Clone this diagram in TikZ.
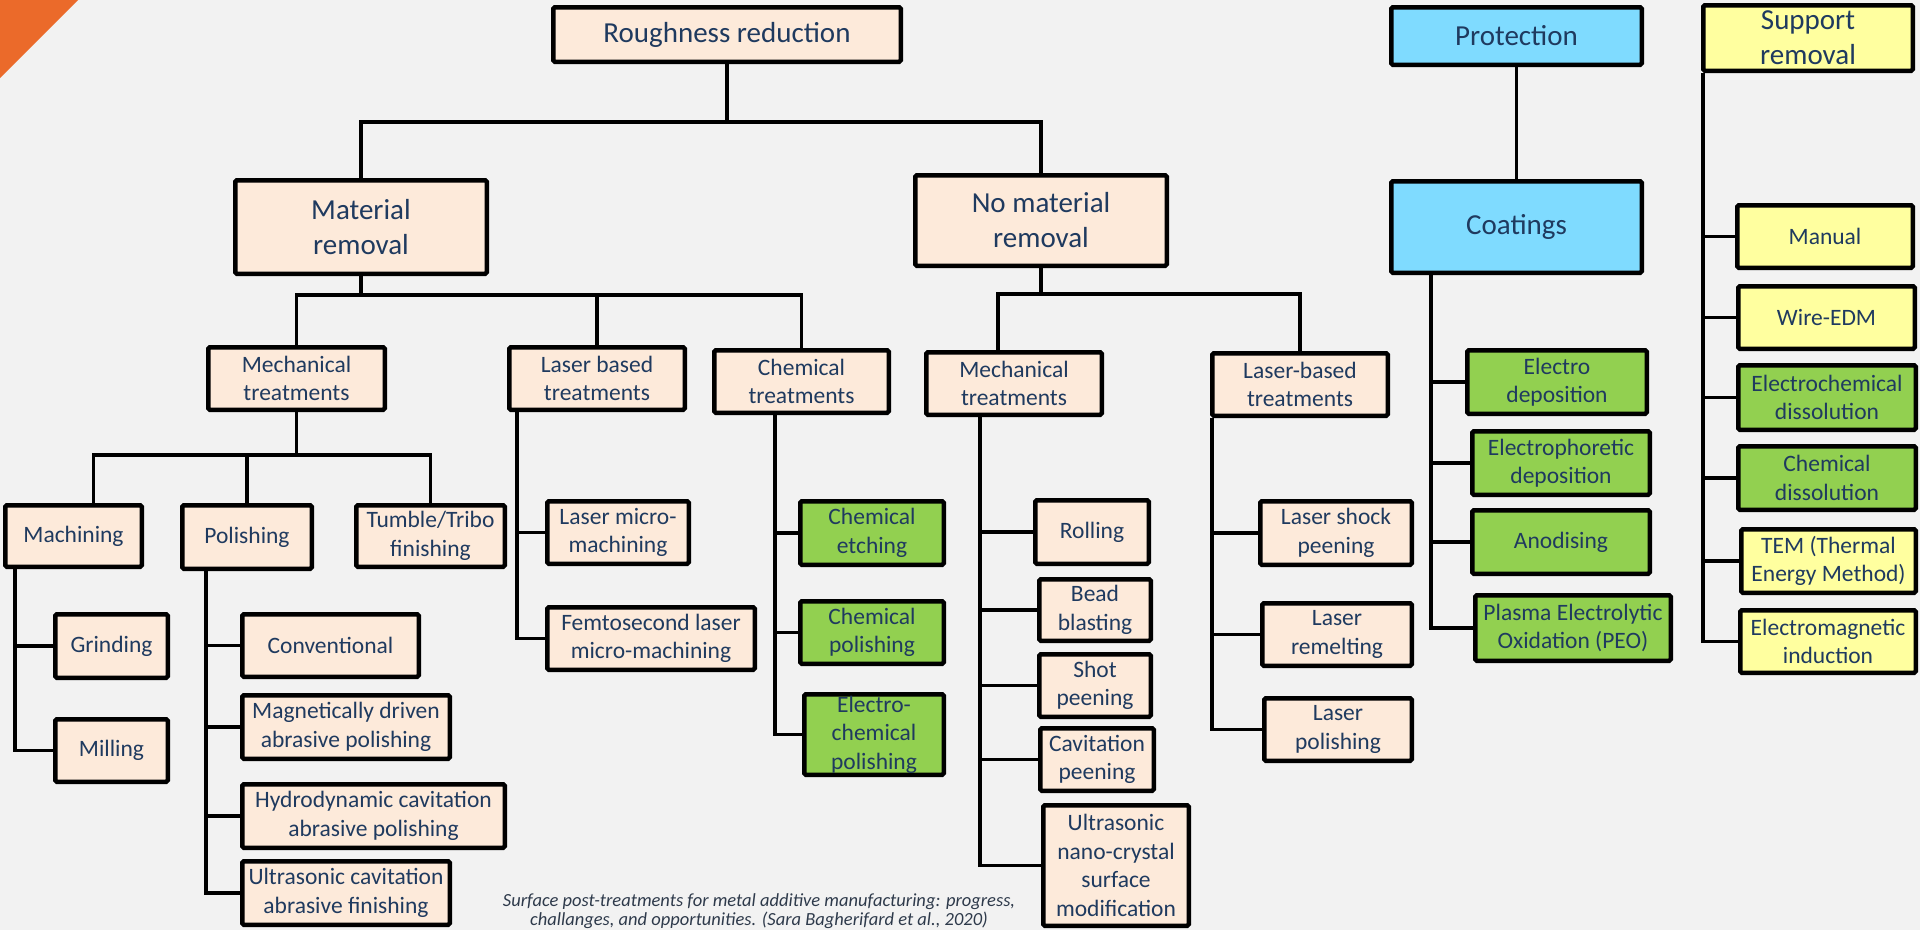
\documentclass[tikz,border=0pt]{standalone}
\usepackage{fontspec}
\setmainfont{Carlito}
\definecolor{bgc}{HTML}{F2F2F2}
\definecolor{txt}{HTML}{1F3A5F}
\definecolor{capc}{HTML}{2E3A4B}
\definecolor{peachc}{HTML}{FDEADA}
\definecolor{greenc}{HTML}{92D050}
\definecolor{bluec}{HTML}{7FDBFF}
\definecolor{yellowc}{HTML}{FFFF9F}
\definecolor{orangec}{HTML}{EB6A2A}

\tikzset{
  box/.style={draw=black, line width=4.5pt, rounded corners=1.5pt, text=txt,
    align=center, inner sep=1pt, font=\fontsize{23.5}{28.5}\selectfont},
  big/.style={font=\fontsize{29}{35}\selectfont},
  pbox/.style={box, fill=peachc},
  gbox/.style={box, fill=greenc},
  bbox/.style={box, fill=bluec},
  ybox/.style={box, fill=yellowc},
  sz/.style 2 args={minimum width=#1pt-4.5pt, minimum height=#2pt-4.5pt},
  conn/.style={draw=black, line width=3.5pt}
}

\begin{document}
\begin{tikzpicture}[x=1pt,y=-1pt]
\useasboundingbox (0,0) rectangle (1920,930);
\fill[bgc] (0,0) rectangle (1920,930);
\fill[orangec] (0,0) -- (78,0) -- (0,78) -- cycle;

% roughness reduction tree
\node[pbox, big, sz={352}{59}] (rough)  at (727,34.5)  {Roughness reduction};
\node[pbox, big, sz={256}{98}] (matrem) at (361,227)   {Material\\removal};
\node[pbox, big, sz={256}{95}] (nomat)  at (1041,220.5) {No material\\removal};

\node[pbox, sz={181}{67}] (mech1)  at (296.5,378.5) {Mechanical\\treatments};
\node[pbox, sz={180}{67}] (laser1) at (597,378.5)   {Laser based\\treatments};
\node[pbox, sz={179}{67}] (chemt)  at (801.5,381.5) {Chemical\\treatments};
\node[pbox, sz={180}{67}] (mech2)  at (1014,383.5)  {Mechanical\\treatments};
\node[pbox, sz={180}{67}] (laser2) at (1300,384.5)  {Laser-based\\treatments};

\node[pbox, sz={141}{66}] (mach)   at (73.5,536)  {Machining};
\node[pbox, sz={134}{68}] (polish) at (247,537)   {Polishing};
\node[pbox, sz={153}{66}] (tumble) at (430.5,536) {Tumble/Tribo\\finishing};

\node[pbox, sz={117}{68}] (grind) at (111.5,646)   {Grinding};
\node[pbox, sz={117}{67}] (mill)  at (111.5,750.5) {Milling};

\node[pbox, sz={181}{67}] (conv)  at (330.5,645.5) {Conventional};
\node[pbox, sz={212}{68}] (magn)  at (346,727)     {Magnetically driven\\abrasive polishing};
\node[pbox, sz={267}{68}] (hydro) at (373.5,816)   {Hydrodynamic cavitation\\abrasive polishing};
\node[pbox, sz={212}{68}] (ultra) at (346,893)     {Ultrasonic cavitation\\abrasive finishing};

\node[pbox, sz={146}{67}] (lmicro) at (618,532.5) {Laser micro-\\machining};
\node[pbox, sz={212}{67}] (femto)  at (651,638.5) {Femtosecond laser\\micro-machining};

\node[gbox, sz={148}{68}] (cetch) at (872,533)   {Chemical\\etching};
\node[gbox, sz={148}{67}] (cpol)  at (872,632.5) {Chemical\\polishing};
\node[gbox, sz={144}{85}, inner ysep=0pt] (ecpol) at (874,734.5) {Electro-\\chemical\\polishing};

\node[pbox, sz={118}{68}] (rolling) at (1092,532)    {Rolling};
\node[pbox, sz={116}{66}] (bead)    at (1095,610)    {Bead\\blasting};
\node[pbox, sz={116}{67}] (shot)    at (1095,685.5)  {Shot\\peening};
\node[pbox, sz={118}{67}] (cavit)   at (1097,759.5)  {Cavitation\\peening};
\node[pbox, sz={150}{125}] (unano)  at (1116,865.5)  {Ultrasonic\\nano-crystal\\surface\\modification};

\node[pbox, sz={156}{68}] (lshock)  at (1336,533)   {Laser shock\\peening};
\node[pbox, sz={154}{67}] (lremelt) at (1337,634.5) {Laser\\remelting};
\node[pbox, sz={152}{67}] (lpol)    at (1338,729.5) {Laser\\polishing};

% protection tree
\node[bbox, big, sz={255}{62}] (prot) at (1516.5,36)  {Protection};
\node[bbox, big, sz={255}{96}] (coat) at (1516.5,227) {Coatings};
\node[gbox, sz={184}{68}] (edep)  at (1557,382) {Electro\\deposition};
\node[gbox, sz={182}{68}] (ephor) at (1561,463) {Electrophoretic\\deposition};
\node[gbox, sz={182}{68}] (anod)  at (1561,542) {Anodising};
\node[gbox, sz={200}{70}] (peo)   at (1573,628) {Plasma Electrolytic\\Oxidation (PEO)};

% support removal tree
\node[ybox, big, sz={214}{70}] (suprem) at (1808,38) {Support\\removal};
\node[ybox, sz={180}{67}] (manual) at (1825,236.5)  {Manual};
\node[ybox, sz={181}{67}] (wire)   at (1826.5,317.5) {Wire-EDM};
\node[gbox, sz={182}{69}] (echdis) at (1827,397.5)  {Electrochemical\\dissolution};
\node[gbox, sz={182}{68}] (chdis)  at (1827,478)    {Chemical\\dissolution};
\node[ybox, sz={179}{68}] (tem)    at (1828.5,561)  {TEM (Thermal\\Energy Method)};
\node[ybox, sz={180}{67}] (emag)   at (1828,641.5)  {Electromagnetic\\induction};

% connectors
\draw[conn] (rough.south) -- (rough.south |- 0,122);
\draw[conn] (matrem.north) |- (nomat.north |- 0,122) -- (nomat.north);

\draw[conn] (matrem.south) -- (matrem.south |- 0,295);
\draw[conn] (mech1.north) |- (chemt.north |- 0,295) -- (chemt.north);
\draw[conn] (laser1.north) -- (laser1.north |- 0,295);

\draw[conn] (nomat.south) -- (nomat.south |- 0,294);
\draw[conn] ([xshift=-16pt]mech2.north) |- (laser2.north |- 0,294) -- (laser2.north);

\draw[conn] (mech1.south) -- (mech1.south |- 0,455);
\draw[conn] ([xshift=20pt]mach.north) |- (tumble.north |- 0,455) -- (tumble.north);
\draw[conn] (polish.north) -- (polish.north |- 0,455);

\foreach \c in {grind,mill}
  \draw[conn] ([xshift=12pt]mach.south west) |- (\c.west);
\foreach \c in {conv,magn,hydro,ultra}
  \draw[conn] ([xshift=26pt]polish.south west) |- (\c.west);
\foreach \c in {lmicro,femto}
  \draw[conn] ([xshift=10pt]laser1.south west) |- (\c.west);
\foreach \c in {cetch,cpol,ecpol}
  \draw[conn] ([xshift=63pt]chemt.south west) |- (\c.west);
\foreach \c in {rolling,bead,shot,cavit,unano}
  \draw[conn] ([xshift=56pt]mech2.south west) |- (\c.west);
\foreach \c in {lshock,lremelt,lpol}
  \draw[conn] ([xshift=2pt]laser2.south west) |- (\c.west);

\draw[conn] (prot.south) -- (coat.north);
\foreach \c in {edep,ephor,anod,peo}
  \draw[conn] ([xshift=42pt]coat.south west) |- (\c.west);
\foreach \c in {manual,wire,echdis,chdis,tem,emag}
  \draw[conn] ([xshift=2pt]suprem.south west) |- (\c.west);

% source
\node[text=capc, align=center, font=\fontsize{18.5}{19.5}\selectfont\itshape] (cite) at (759,911)
  {Surface post-treatments for metal additive manufacturing: progress,\\challanges, and opportunities. (Sara Bagherifard et al., 2020)};
\end{tikzpicture}
\end{document}
